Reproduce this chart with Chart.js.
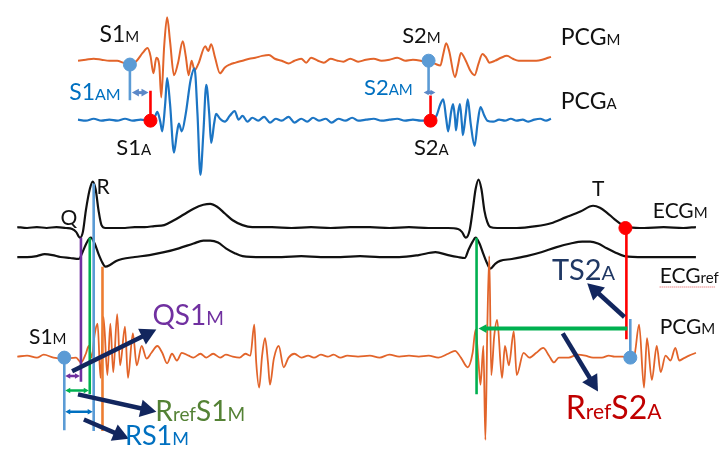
<!DOCTYPE html>
<html>
<head>
<meta charset="utf-8">
<script src="https://cdn.jsdelivr.net/npm/chart.js@4.4.0/dist/chart.umd.min.js"></script>
<style>
  html, body { margin: 0; padding: 0; background: #fff; }
  #wrap { width: 723px; height: 457px; }
</style>
</head>
<body>
<div id="wrap"><canvas id="chart" width="723" height="457"></canvas></div>
<script>
// traces: [time px, amplitude px from top]
const pcgTopM = [
	[72,55],[80,54],[88,53],[96,54],[104,55],[112,55],[118,57],[125,59],[132,55],[138,47],[143,42],[146,50],
	[149,68],[152,52],[155,60],[157,93],[160,40],[163,10],[166,35],[170,70],[174,58],[179,35],[182,50],[185,70],
	[188,55],[191,65],[195,58],[202,40],[205,45],[208,38],[212,52],[217,68],[222,62],[227,59],[233,57],[240,55],
	[247,53],[253,52],[260,50],[267,49],[273,53],[280,55],[287,58],[293,55],[300,53],[305,57],[310,52],[317,55],
	[323,57],[330,53],[337,55],[343,56],[350,53],[358,56],[366,54],[374,53],[382,55],[390,54],[398,52],[406,55],
	[414,54],[422,55],[430,57],[436,58],[442,60],[445,48],[448,37],[451,45],[457,72],[460,60],[463,47],[468,55],
	[473,66],[477,70],[481,58],[485,48],[489,52],[492,57],[498,55],[504,52],[510,50],[516,53],[522,55],[528,55],
	[534,55],[540,55],[546,54],[552,52],[555,51]
];
const pcgTopA = [
	[72,116],[80,117],[88,115],[96,117],[104,116],[112,117],[120,115],[128,117],[136,116],[145,117],[150,114],[153,108],
	[156,118],[158,128],[161,100],[163,73],[166,100],[170,150],[173,130],[175,120],[178,128],[182,110],[187,75],[191,63],
	[194,110],[197,173],[200,130],[203,80],[206,110],[208,140],[211,120],[213,110],[217,115],[222,118],[227,112],[232,107],
	[236,116],[240,112],[245,118],[250,114],[256,117],[262,113],[268,119],[274,115],[280,117],[287,113],[293,119],[300,115],
	[306,118],[312,114],[318,117],[325,115],[331,119],[338,115],[345,117],[352,114],[358,117],[366,116],[374,115],[382,117],
	[390,116],[398,115],[406,117],[414,116],[422,117],[432,117],[438,112],[442,100],[445,95],[448,115],[450,128],[453,108],
	[455,100],[457,115],[458,127],[460,110],[462,100],[464,120],[465,132],[468,110],[470,95],[473,120],[477,143],[480,120],
	[483,103],[487,112],[490,117],[496,118],[502,116],[508,117],[514,115],[520,117],[526,116],[532,118],[538,116],[544,115],
	[550,117],[555,115]
];
const ecgM = [
	[10,227],[20,228],[30,227],[40,228],[50,227],[60,228],[66,229],[70,232],[74,238],[77,232],[80,210],[84,188],
	[87,180],[90,188],[93,210],[96,225],[100,228],[110,228],[120,228],[130,227],[140,227],[150,226],[160,225],[170,220],
	[180,214],[190,208],[200,204],[207,203],[214,206],[222,213],[230,220],[240,225],[250,227],[270,227],[290,228],[310,227],
	[330,228],[350,227],[370,227],[390,228],[410,227],[430,228],[450,228],[460,229],[464,232],[468,238],[472,230],[475,210],
	[478,188],[481,178],[484,188],[487,210],[490,222],[493,227],[500,228],[520,228],[540,226],[555,223],[570,217],[585,211],
	[598,205],[605,207],[612,212],[620,219],[628,225],[635,227],[650,228],[670,227],[690,228],[703,227]
];
const ecgRef = [
	[10,258],[20,258],[30,257],[38,255],[46,256],[54,258],[64,259],[73,260],[77,252],[81,243],[85,238],[89,244],
	[93,255],[97,264],[100,268],[105,266],[111,262],[117,260],[130,258],[145,256],[160,253],[175,249],[190,244],[200,241],
	[207,241],[215,243],[223,249],[232,254],[240,257],[260,258],[280,258],[300,257],[320,258],[340,258],[360,257],[380,258],
	[400,258],[420,256],[437,253],[450,256],[460,258],[467,259],[471,250],[475,242],[478,238],[482,244],[486,255],[490,265],
	[493,270],[498,265],[503,262],[515,260],[530,257],[545,253],[560,248],[575,244],[587,242],[595,242],[603,244],[612,249],
	[620,253],[630,257],[650,258],[670,258],[690,258],[703,258]
];
const pcgLowM = [
	[10,361],[20,360],[30,362],[37,359],[47,362],[58,363],[70,362],[75,367],[80,358],[83,350],[86,362],[89,338],
	[92,327],[95,383],[98,320],[102,380],[105,327],[108,377],[112,317],[115,370],[120,330],[123,383],[128,337],[132,370],
	[137,350],[142,363],[147,357],[153,350],[158,357],[163,368],[168,358],[173,365],[178,357],[185,360],[190,362],[197,358],
	[203,362],[210,358],[217,362],[223,359],[230,361],[237,362],[243,358],[248,360],[252,328],[254,367],[257,393],[260,360],
	[263,342],[266,367],[268,390],[272,363],[277,350],[282,372],[287,362],[293,358],[300,362],[307,360],[313,362],[320,359],
	[327,361],[333,359],[340,362],[347,360],[358,361],[370,360],[380,362],[390,359],[400,361],[410,360],[420,361],[430,360],
	[440,362],[450,358],[457,355],[463,362],[470,372],[475,357],[478,333],[481,367],[483,390],[486,350],[488,447],[490,330],
	[492,257],[494,380],[497,340],[500,323],[505,383],[508,350],[512,370],[517,335],[520,380],[527,357],[533,362],[540,357],
	[547,352],[553,360],[558,367],[563,362],[573,362],[582,359],[590,360],[598,362],[607,362],[614,360],[620,361],[628,361],
	[635,362],[640,360],[645,328],[650,393],[653,342],[658,385],[663,350],[667,377],[672,360],[677,365],[682,352],[686,365],
	[690,363],[696,360],[703,357]
];

// event markers
const blueDots = [[125,59],[430,55],[58,362],[636,362]];
const redDots = [[146,117],[432,117],[631,228]];

// vertical / horizontal marker segments: [x1, y1, x2, y2, colour]
const markers = [
	[125,59,125,96,'#5B9BD5'],
	[146,86,146,117,'#FF0000'],
	[430,55,430,88,'#5B9BD5'],
	[432,91,432,117,'#FF0000'],
	[75,238,75,387,'#7030A0'],
	[84,238,84,400,'#00B050'],
	[88,182,88,438,'#5B9BD5'],
	[97,268,97,438,'#ED7D31'],
	[58,362,58,437,'#5B9BD5'],
	[479,238,479,400,'#00B050'],
	[632,228,632,343,'#FF0000'],
	[636,322,636,362,'#5B9BD5']
];

// arrows: [x1, y1, x2, y2, colour, width, head length, two-headed]
const arrows = [
	[127,88,144,88,'#5B88C8',3,7,true],
	[425,88,437,88,'#5B88C8',3,5,true],
	[59,381,74,381,'#7030A0',2.5,5,true],
	[59,396,83,396,'#00B050',2.5,5,true],
	[59,418,87,418,'#0070C0',2.5,5,true],
	[633,332,481,332,'#00B050',4,8,false],
	[66,376,152,333,'#12265E',4.5,16,false],
	[72,400,152,418,'#12265E',4.5,16,false],
	[78,426,124,446,'#12265E',4.5,16,false],
	[630,320,592,285,'#12265E',4.5,16,false],
	[567,337,603,397,'#12265E',4.5,16,false]
];

// labels: parts [text, size], anchor x / baseline y, colour
const texts = [
	{parts: [['S1',23],['M',15]], x: 94, y: 36, color: '#111'},
	{parts: [['S1',23],['AM',16]], x: 63, y: 96, color: '#0070C0'},
	{parts: [['S1',22],['A',15]], x: 111, y: 153, color: '#111'},
	{parts: [['S2',22],['M',15]], x: 403, y: 37, color: '#111'},
	{parts: [['S2',22],['AM',15]], x: 364, y: 90, color: '#0070C0'},
	{parts: [['S2',22],['A',15]], x: 415, y: 153, color: '#111'},
	{parts: [['PCG',23],['M',15]], x: 565, y: 39, color: '#111'},
	{parts: [['PCG',23],['A',15]], x: 565, y: 105, color: '#111'},
	{parts: [['Q',21]], x: 54, y: 225, color: '#111'},
	{parts: [['R',21]], x: 91, y: 193, color: '#111'},
	{parts: [['T',21]], x: 597, y: 195, color: '#111'},
	{parts: [['ECG',21],['M',15]], x: 659, y: 218, color: '#111'},
	{parts: [['ECG',21],['ref',15]], x: 666, y: 285, color: '#111'},
	{parts: [['PCG',21],['M',15]], x: 666, y: 338, color: '#111'},
	{parts: [['S1',21],['M',15]], x: 22, y: 348, color: '#111'},
	{parts: [['QS1',28],['M',19]], x: 148, y: 328, color: '#7030A0'},
	{parts: [['R',28],['ref',19],['S1',28],['M',19]], x: 151, y: 428, color: '#548235'},
	{parts: [['RS1',27],['M',18]], x: 120, y: 452, color: '#0070C0'},
	{parts: [['TS2',29],['A',20]], x: 556, y: 282, color: '#203864'},
	{parts: [['R',32],['ref',21],['S2',32],['A',21]], x: 570, y: 425, color: '#C00000'}
];

const toPts = arr => arr.map(p => ({x: p[0], y: p[1]}));

function trace(data, color, width) {
	return {
		type: 'line',
		data: toPts(data),
		borderColor: color,
		borderWidth: width,
		pointRadius: 0,
		cubicInterpolationMode: 'monotone',
		fill: false
	};
}

// bottom-most first
const datasets = [
	trace(ecgM, '#111111', 2.2),
	trace(ecgRef, '#111111', 2.2),
	trace(pcgTopM, '#E2642A', 2),
	trace(pcgTopA, '#1C75C4', 2.2),
	trace(pcgLowM, '#E2642A', 1.8)
];
markers.forEach(m => {
	datasets.push({
		type: 'line',
		data: [{x: m[0], y: m[1]}, {x: m[2], y: m[3]}],
		borderColor: m[4],
		borderWidth: 2.6,
		pointRadius: 0,
		fill: false
	});
});
datasets.push({
	type: 'scatter',
	data: toPts(blueDots),
	backgroundColor: '#5B9BD5',
	borderColor: '#5B9BD5',
	pointRadius: 6.5
});
datasets.push({
	type: 'scatter',
	data: toPts(redDots),
	backgroundColor: '#FF0000',
	borderColor: '#FF0000',
	pointRadius: 6.5
});
datasets.forEach((d, i) => { d.order = datasets.length - i; });

function head(ctx, x1, y1, x2, y2, len, color) {
	const a = Math.atan2(y2 - y1, x2 - x1);
	const w = len * 0.55;
	ctx.fillStyle = color;
	ctx.beginPath();
	ctx.moveTo(x2, y2);
	ctx.lineTo(x2 - len * Math.cos(a) + w * Math.sin(a), y2 - len * Math.sin(a) - w * Math.cos(a));
	ctx.lineTo(x2 - len * Math.cos(a) - w * Math.sin(a), y2 - len * Math.sin(a) + w * Math.cos(a));
	ctx.closePath();
	ctx.fill();
}

const overlay = {
	id: 'overlay',
	afterDatasetsDraw(chart) {
		const ctx = chart.ctx;
		const sx = chart.scales.x, sy = chart.scales.y;
		ctx.save();
		arrows.forEach(a => {
			const x1 = sx.getPixelForValue(a[0]), y1 = sy.getPixelForValue(a[1]);
			const x2 = sx.getPixelForValue(a[2]), y2 = sy.getPixelForValue(a[3]);
			const ang = Math.atan2(y2 - y1, x2 - x1);
			const len = a[6];
			const cut = len * 0.8;
			const sxs = a[7] ? x1 + cut * Math.cos(ang) : x1;
			const sys = a[7] ? y1 + cut * Math.sin(ang) : y1;
			ctx.strokeStyle = a[4];
			ctx.lineWidth = a[5];
			ctx.lineCap = 'butt';
			ctx.beginPath();
			ctx.moveTo(sxs, sys);
			ctx.lineTo(x2 - cut * Math.cos(ang), y2 - cut * Math.sin(ang));
			ctx.stroke();
			head(ctx, x1, y1, x2, y2, len, a[4]);
			if (a[7]) head(ctx, x2, y2, x1, y1, len, a[4]);
		});
		ctx.textBaseline = 'alphabetic';
		ctx.textAlign = 'left';
		texts.forEach(t => {
			let x = sx.getPixelForValue(t.x);
			const y = sy.getPixelForValue(t.y);
			ctx.fillStyle = t.color;
			t.parts.forEach(p => {
				ctx.font = p[1] + 'px Lato, "Open Sans", sans-serif';
				ctx.fillText(p[0], x, y);
				x += ctx.measureText(p[0]).width;
			});
		});
		// spell-check squiggle under ECGref
		ctx.strokeStyle = '#E05050';
		ctx.lineWidth = 1;
		ctx.setLineDash([1, 1]);
		ctx.beginPath();
		ctx.moveTo(sx.getPixelForValue(666), sy.getPixelForValue(289));
		ctx.lineTo(sx.getPixelForValue(723), sy.getPixelForValue(289));
		ctx.stroke();
		ctx.restore();
	}
};

new Chart(document.getElementById('chart').getContext('2d'), {
	data: { datasets: datasets },
	options: {
		responsive: false,
		animation: false,
		layout: { padding: 0 },
		scales: {
			x: { type: 'linear', min: 0, max: 723, display: false },
			y: { type: 'linear', min: 0, max: 457, reverse: true, display: false }
		},
		plugins: {
			legend: { display: false },
			tooltip: { enabled: false }
		}
	},
	plugins: [overlay]
});
</script>
</body>
</html>
